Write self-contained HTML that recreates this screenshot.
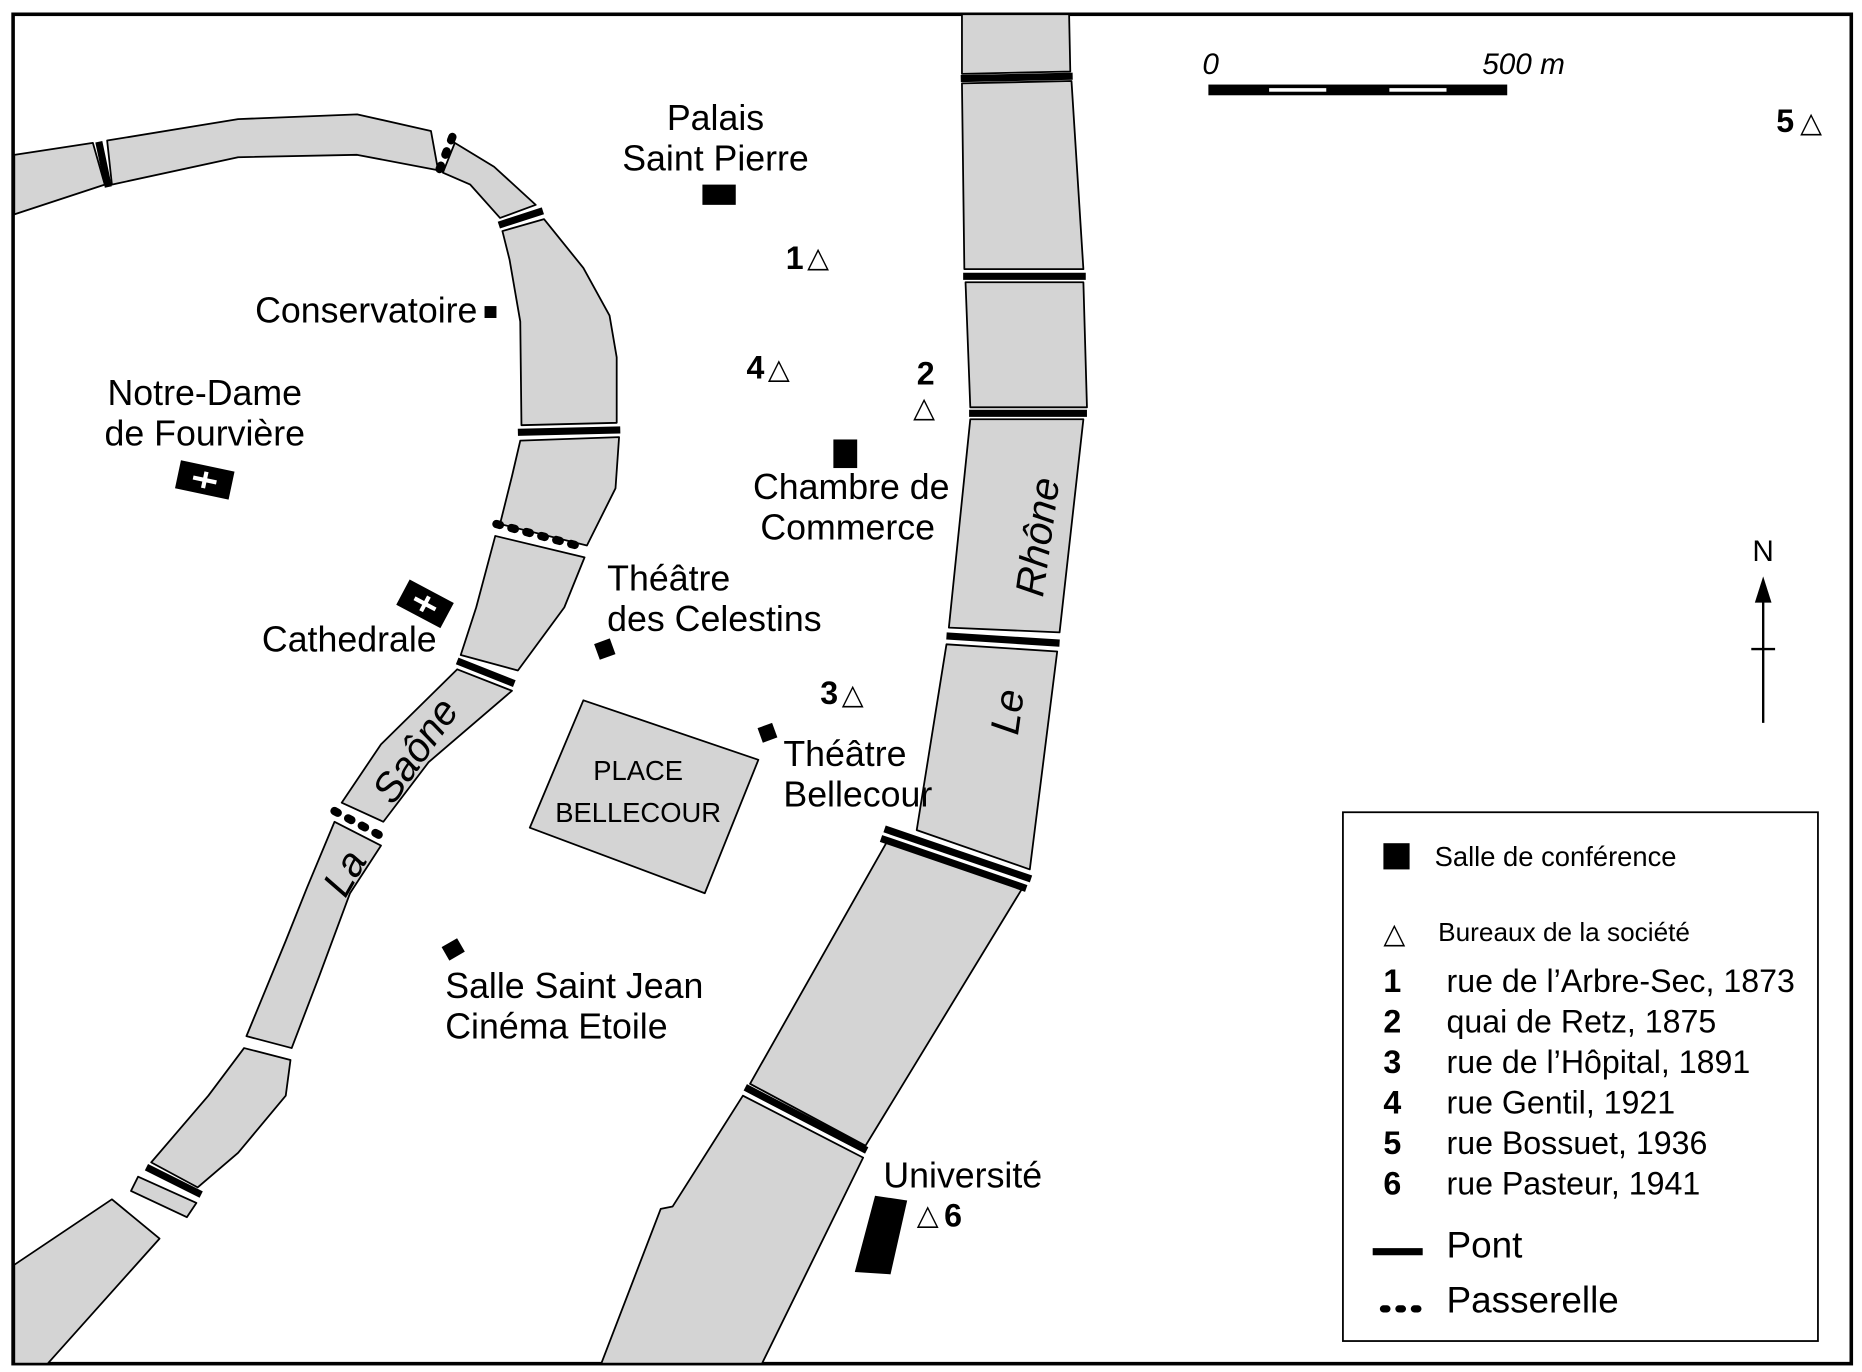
<!DOCTYPE html>
<html><head><meta charset="utf-8"><style>
html,body{margin:0;padding:0;background:#fff}
svg{display:block}
text{font-family:"Liberation Sans",Arial,sans-serif;fill:#000}
</style></head><body>
<svg width="1862" height="1372" viewBox="0 0 1564 1152" preserveAspectRatio="none" xmlns="http://www.w3.org/2000/svg">
<rect x="11" y="12" width="1544" height="1133" fill="#fff" stroke="#000" stroke-width="3"/>
<g fill="#d4d4d4" stroke="#000" stroke-width="1.5" stroke-linejoin="round">
<polygon points="808,12 898,12 899,60 808,62"/>
<polygon points="808,70 900,68 910,226 810,226"/>
<polygon points="811,237 910,237 913,342 815,342"/>
<polygon points="815,352 910,352 890,531 797,527"/>
<polygon points="795,541 888,547 865,730 770,697"/>
<polygon points="746,705 858,747 727,962 630,910"/>
<polygon points="624,920 725,972 640,1145 505,1145 555,1015 565,1013"/>
<polygon points="12,130 78,120 88,155 12,180"/>
<polygon points="90,118 200,100 300,96 362,110 368,143 300,130 200,132 94,155"/>
<polygon points="382,120 415,140 450,172 420,183 395,155 372,145"/>
<polygon points="422,194 457,184 490,225 512,265 518,300 518,355 438,357 437,270 428,218"/>
<polygon points="437,370 520,367 517,410 493,458 420,440 430,400"/>
<polygon points="416,450 491,468 474,510 435,563 387,550 400,510"/>
<polygon points="384,562 430,580 360,640 322,690 287,674 320,625"/>
<polygon points="281,690 320,710 294,750 268,820 245,880 207,870 240,790 258,745"/>
<polygon points="205,880 244,890 240,920 200,968 166,997 127,976 175,920"/>
<polygon points="116,988 165,1010 157,1022 110,1000"/>
<polygon points="94,1007 134,1040 40,1145 12,1145 12,1062"/>
<polygon points="490,588 637,638 592,750 445,695"/>
</g>
<g stroke="#000" stroke-width="6" stroke-linecap="butt">
<line x1="807" y1="66" x2="901" y2="64"/>
<line x1="809" y1="232" x2="912" y2="232"/>
<line x1="814" y1="347" x2="913" y2="347"/>
<line x1="795" y1="534" x2="890" y2="540"/>
<line x1="743" y1="696" x2="866" y2="738" />
<line x1="740" y1="704" x2="862" y2="746" />
<line x1="626" y1="913" x2="728" y2="966"/>
<line x1="83" y1="119" x2="91" y2="157"/>
<line x1="419" y1="189" x2="456" y2="177"/>
<line x1="435" y1="363" x2="521" y2="361"/>
<line x1="384" y1="555" x2="432" y2="574"/>
<line x1="123" y1="980" x2="169" y2="1003"/>
</g>
<g stroke="#000" stroke-width="7" stroke-linecap="round" stroke-dasharray="3,10" fill="none">
<line x1="380" y1="115" x2="368" y2="145"/>
<line x1="417" y1="440" x2="492" y2="460"/>
<line x1="281" y1="681" x2="322" y2="703"/>
</g>
<rect x="590" y="155" width="28" height="17"/>
<rect x="407" y="257" width="10" height="10"/>
<rect x="700" y="369" width="20" height="24"/>
<rect x="501" y="538" width="14" height="14" transform="rotate(-20 508 545)"/>
<rect x="638" y="609" width="13" height="13" transform="rotate(-20 644 615)"/>
<rect x="373" y="791" width="15" height="13" transform="rotate(-30 380 797)"/>
<polygon points="735,1004 762,1008 748,1070 718,1068"/>
<g transform="rotate(12 172 403)"><rect x="149" y="391" width="46" height="24"/><path d="M162 403h20M172 396v14" stroke="#fff" stroke-width="3.5"/></g>
<g transform="rotate(28 357 507)"><rect x="336" y="495" width="42" height="24"/><path d="M347 507h20M357 500v14" stroke="#fff" stroke-width="3.5"/></g>
<g font-size="30">
<text x="601" y="109" text-anchor="middle">Palais</text>
<text x="601" y="143" text-anchor="middle">Saint Pierre</text>
<text x="401" y="271" text-anchor="end">Conservatoire</text>
<text x="172" y="340" text-anchor="middle">Notre-Dame</text>
<text x="172" y="374" text-anchor="middle">de Fourvière</text>
<text x="715" y="419" text-anchor="middle">Chambre de</text>
<text x="712" y="453" text-anchor="middle">Commerce</text>
<text x="510" y="496">Théâtre</text>
<text x="510" y="530">des Celestins</text>
<text x="220" y="547">Cathedrale</text>
<text x="658" y="643">Théâtre</text>
<text x="658" y="677">Bellecour</text>
<text x="374" y="838">Salle Saint Jean</text>
<text x="374" y="872">Cinéma Etoile</text>
<text x="742" y="997">Université</text>
</g>
<g font-size="23"><text x="536" y="655" text-anchor="middle">PLACE</text><text x="536" y="690" text-anchor="middle">BELLECOUR</text></g>
<g font-size="34" font-style="italic">
<text transform="translate(876,502) rotate(-82)">Rhône</text>
<text transform="translate(855,618) rotate(-82)">Le</text>
<text transform="translate(290,755) rotate(-60)">La</text>
<text transform="translate(330,677) rotate(-55)">Saône</text>
</g>
<g font-size="27" font-weight="bold">
<text x="660" y="226">1</text><text x="627" y="318">4</text><text x="770" y="323">2</text>
<text x="689" y="591">3</text><text x="1492" y="111">5</text><text x="793" y="1030">6</text>
</g>
<g font-size="24" font-family="DejaVu Sans">
<text x="678" y="224">△</text><text x="645" y="318">△</text><text x="767" y="350">△</text>
<text x="707" y="591">△</text><text x="1512" y="111">△</text><text x="770" y="1028">△</text>
</g>
<rect x="1015" y="71" width="251" height="9" fill="#000"/>
<rect x="1066" y="74" width="48" height="3" fill="#fff"/>
<rect x="1167" y="74" width="48" height="3" fill="#fff"/>
<g font-size="25" font-style="italic"><text x="1010" y="62">0</text><text x="1245" y="62">500 m</text></g>
<line x1="1481" y1="500" x2="1481" y2="607" stroke="#000" stroke-width="2"/>
<line x1="1471" y1="545" x2="1491" y2="545" stroke="#000" stroke-width="2"/>
<polygon points="1481,484 1474,506 1488,506"/>
<text x="1481" y="471" font-size="25" text-anchor="middle">N</text>
<rect x="1128" y="682" width="399" height="444" fill="#fff" stroke="#000" stroke-width="1.5"/>
<rect x="1162" y="708" width="22" height="22"/>
<text x="1205" y="727" font-size="23">Salle de conférence</text>
<text x="1162" y="792" font-size="24" font-family="DejaVu Sans">△</text>
<text x="1208" y="790" font-size="22">Bureaux de la société</text>
<g font-size="27"><g font-weight="bold">
<text x="1162" y="833">1</text><text x="1162" y="867">2</text><text x="1162" y="901">3</text>
<text x="1162" y="935">4</text><text x="1162" y="969">5</text><text x="1162" y="1003">6</text></g>
<text x="1215" y="833">rue de l’Arbre-Sec, 1873</text>
<text x="1215" y="867">quai de Retz, 1875</text>
<text x="1215" y="901">rue de l’Hôpital, 1891</text>
<text x="1215" y="935">rue Gentil, 1921</text>
<text x="1215" y="969">rue Bossuet, 1936</text>
<text x="1215" y="1003">rue Pasteur, 1941</text>
</g>
<line x1="1153" y1="1051" x2="1195" y2="1051" stroke="#000" stroke-width="6"/>
<line x1="1162" y1="1099" x2="1198" y2="1099" stroke="#000" stroke-width="6" stroke-linecap="round" stroke-dasharray="3,10"/>
<g font-size="31"><text x="1215" y="1056">Pont</text><text x="1215" y="1102">Passerelle</text></g>
</svg>
</body></html>
